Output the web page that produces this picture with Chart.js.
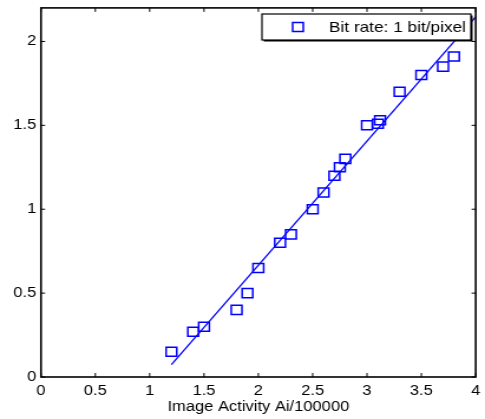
<!DOCTYPE html>
<html>
<head>
<meta charset="utf-8">
<script src="https://cdn.jsdelivr.net/npm/chart.js@4/dist/chart.umd.min.js"></script>
<style>
  html, body { margin: 0; padding: 0; background: #fff; overflow: hidden; }
  #wrap { width: 411px; height: 419px; transform: scaleX(1.18005); transform-origin: 0 0; }
</style>
</head>
<body>
<div id="wrap"><canvas id="c" width="411" height="419"></canvas></div>
<script>
// ---- data ----
const activityX = [1.2, 1.4, 1.5, 1.8, 1.9, 2.0, 2.2, 2.3, 2.5, 2.6, 2.7, 2.75, 2.8, 3.0, 3.1, 3.12, 3.3, 3.5, 3.7, 3.8];
const bitValues = [0.15, 0.27, 0.30, 0.40, 0.50, 0.65, 0.80, 0.85, 1.00, 1.10, 1.20, 1.25, 1.30, 1.50, 1.51, 1.53, 1.70, 1.80, 1.85, 1.91];
const fitX = [1.2, 4.0];
const fitY = [0.074, 2.147];
const xTicks = [0, 0.5, 1, 1.5, 2, 2.5, 3, 3.5, 4];
const xTickLabels = ['0', '0.5', '1', '1.5', '2', '2.5', '3', '3.5', '4'];
const yTicks = [0, 0.5, 1, 1.5, 2];
const yTickLabels = ['0', '0.5', '1', '1.5', '2'];
const seriesLabel = 'Bit rate: 1 bit/pixel';
const xTitle = 'Image Activity Ai/100000';

const FONT = 'Liberation Sans, Arial, sans-serif';
const BLUE = 'rgb(0,0,255)';

const scatterPts = activityX.map((x, i) => ({x: x, y: bitValues[i]}));
const fitPts = fitX.map((x, i) => ({x: x, y: fitY[i]}));

function noPad(s) {
  s.paddingLeft = 0; s.paddingRight = 0; s.paddingTop = 0; s.paddingBottom = 0;
}

const boxTicks = {
  id: 'boxTicks',
  afterDraw(chart) {
    const {ctx, chartArea: a, scales: {x, y}} = chart;
    ctx.save();
    ctx.strokeStyle = '#000';
    ctx.lineWidth = 1;
    ctx.beginPath();
    xTicks.forEach(v => {
      const px = x.getPixelForValue(v);
      ctx.moveTo(px, a.bottom); ctx.lineTo(px, a.bottom - 4);
      ctx.moveTo(px, a.top); ctx.lineTo(px, a.top + 4);
    });
    yTicks.forEach(v => {
      const py = y.getPixelForValue(v);
      ctx.moveTo(a.left, py); ctx.lineTo(a.left + 3.5, py);
      ctx.moveTo(a.right, py); ctx.lineTo(a.right - 3.5, py);
    });
    ctx.stroke();
    ctx.lineWidth = 1.6;
    ctx.strokeRect(a.left, a.top, a.right - a.left, a.bottom - a.top);

    // legend
    const lx = 222, ly = 14, lw = 177, lh = 26;
    ctx.fillStyle = '#000';
    ctx.fillRect(lx + 1.5, ly + 1.5, lw, lh);
    ctx.fillStyle = '#fff';
    ctx.fillRect(lx, ly, lw, lh);
    ctx.lineWidth = 1.2;
    ctx.strokeStyle = '#000';
    ctx.strokeRect(lx, ly, lw, lh);
    ctx.strokeStyle = BLUE;
    ctx.lineWidth = 1.5;
    ctx.strokeRect(252.5 - 4.5, 27 - 4.5, 9, 9);
    ctx.fillStyle = '#000';
    ctx.font = '14.6px ' + FONT;
    ctx.textAlign = 'left';
    ctx.textBaseline = 'middle';
    ctx.fillText(chart.data.datasets[1].label, 278.8, 27.5);
    ctx.restore();
  }
};

new Chart(document.getElementById('c'), {
  type: 'scatter',
  data: {
    datasets: [
      {
        label: 'fit',
        data: fitPts,
        showLine: true,
        borderColor: BLUE,
        borderWidth: 1.3,
        pointRadius: 0,
        fill: false
      },
      {
        label: seriesLabel,
        data: scatterPts,
        pointStyle: 'rect',
        pointRadius: 6.4,
        pointBorderWidth: 1.5,
        pointBorderColor: BLUE,
        pointBackgroundColor: 'rgba(0,0,0,0)',
        showLine: false
      }
    ]
  },
  options: {
    responsive: false,
    animation: false,
    devicePixelRatio: 1,
    layout: { padding: { top: 6, right: 5.1, left: 0, bottom: 0 } },
    plugins: { legend: { display: false }, tooltip: { enabled: false } },
    scales: {
      x: {
        type: 'linear', min: 0, max: 4,
        grid: { display: false, drawTicks: false },
        border: { display: false },
        afterBuildTicks: s => { s.ticks = xTicks.map(v => ({value: v})); },
        afterFit: s => { s.height = 42; noPad(s); },
        ticks: {
          padding: 5.5,
          maxRotation: 0,
          color: '#000',
          font: { family: FONT, size: 14 },
          callback: (v) => xTickLabels[xTicks.indexOf(v)]
        },
        title: {
          display: true, text: xTitle, color: '#000',
          font: { family: FONT, size: 14 },
          padding: { top: 0, bottom: 3 }
        }
      },
      y: {
        type: 'linear', min: 0, max: 2.2,
        grid: { display: false, drawTicks: false },
        border: { display: false },
        afterBuildTicks: s => { s.ticks = yTicks.map(v => ({value: v})); },
        afterFit: s => { s.width = 34.75; noPad(s); },
        ticks: {
          padding: 4,
          color: '#000',
          font: { family: FONT, size: 14 },
          callback: (v) => yTickLabels[yTicks.indexOf(v)]
        }
      }
    }
  },
  plugins: [boxTicks]
});
</script>
</body>
</html>
